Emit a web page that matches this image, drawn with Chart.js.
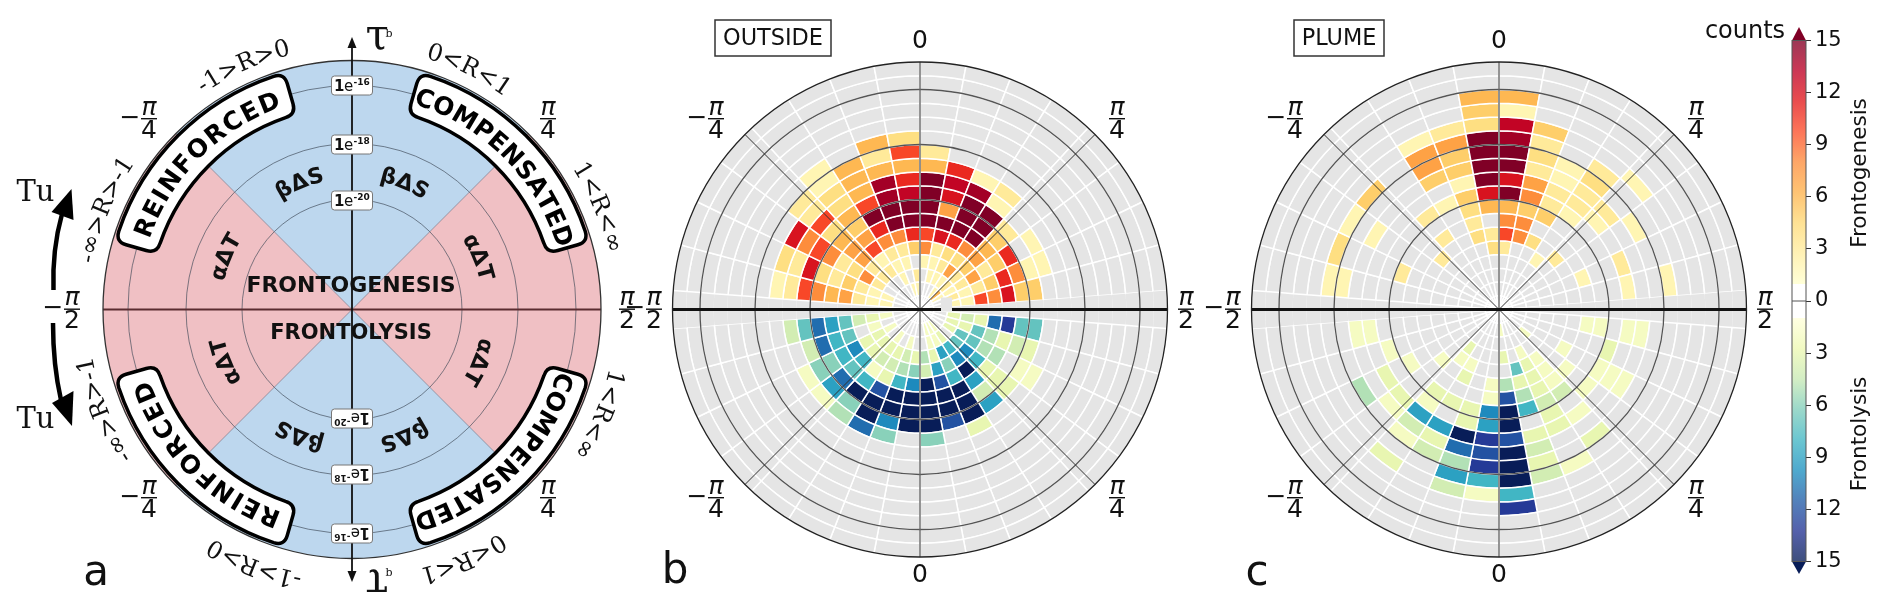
<!DOCTYPE html>
<html>
<head>
<meta charset="utf-8">
<title>Frontogenesis and frontolysis polar histograms</title>
<script src="https://cdn.jsdelivr.net/npm/chart.js@4"></script>
<style>
  html, body { margin: 0; padding: 0; background: #fff; width: 1892px; height: 610px; overflow: hidden; }
  canvas { position: absolute; top: 0; }
</style>
</head>
<body>
<canvas id="panelA" width="704" height="610" style="left:0"></canvas>
<canvas id="panelB" width="640" height="610" style="left:600px"></canvas>
<canvas id="panelC" width="640" height="610" style="left:1179px"></canvas>
<canvas id="colorbar" width="202" height="610" style="left:1690px"></canvas>
<script>
// counts per sector (left to right seen from the top/bottom axis), each row runs from the centre ring outwards
const outsideTop = [
  [0,0,2,2,3,7,6,8,10,3,2],
  [0,0,2,2,3,5,3,4,12,3,4],
  [0,0,0,3,8,4,3,8,10,8,12],
  [0,0,0,3,3,7,7,6,4,10,3,3],
  [0,0,0,3,2,10,7,5,6,4,4,2,2],
  [0,0,2,2,3,8,11,15,10,6,6,6],
  [0,2,0,2,3,8,15,15,14,14,6,3,6],
  [0,2,3,0,5,11,15,15,13,11,6,10,4],
  [0,0,0,2,8,10,15,15,15,15,6,3],
  [0,0,2,2,3,12,15,7,12,13,11],
  [0,0,2,3,4,11,15,15,15,14,2],
  [0,2,2,7,4,8,15,15,15,2,3],
  [0,6,3,3,5,7,6,5,3],
  [0,2,2,3,7,3,5,11,0,2],
  [0,0,3,2,3,5,11,8,2,2],
  [0,0,2,2,10,8,12,5,5]
];
const outsideBottom = [
  [0,0,2,3,4,7,9,11,7,4],
  [0,0,0,2,0,7,8,11,4],
  [0,0,2,3,3,10,8,6,6,2],
  [0,0,0,3,3,8,7,11,9,2],
  [0,0,2,3,4,2,8,15,6,5],
  [0,0,0,3,4,3,12,15,15,11],
  [0,0,2,4,5,8,15,15,10,6],
  [0,0,0,3,6,10,15,15,15],
  [0,0,0,5,4,15,15,15,15,6],
  [0,2,2,3,9,12,15,15,12],
  [0,2,2,9,6,8,15,15,15,3],
  [0,2,3,8,10,15,9,4,9],
  [0,0,0,7,10,8,3,3,3],
  [0,0,3,7,7,5,5,0,2,2],
  [0,0,3,3,7,5,3,4,3],
  [0,0,3,4,3,11,13,7,7]
];
const plumeTop = [
  [0,0,0,0,0,0,0,0,0,0,0,2,2],
  [0,0,0,0,0,0,0,3,0,0,0,0,4],
  [0,0,0,0,0,0,0,0,0,0,2,0,2],
  [0,0,0,0,0,3,0,0,0,0,0,0,5],
  [0,0,0,0,0,0,3,0,3],
  [0,0,0,0,0,0,0,0,2,0,5,7,7,2],
  [0,0,0,0,0,4,3,4,5,2,5,5,7,3],
  [0,0,0,0,4,3,0,6,12,15,15,15,15,4,5,6],
  [0,0,0,0,3,10,8,6,15,12,15,15,14,13,2,6],
  [0,0,0,0,0,8,8,5,8,7,3,4,3,5],
  [0,0,0,0,0,4,0,5,3,3,2,2],
  [0,0,0,0,2,0,0,0,2,3,3,4,3],
  [0,0,0,0,0,3,0,0,0,2,3,0,0,2],
  [0,0,0,0,0,0,0,0,0,0,0,2],
  [0,0,0,0,0,0,2,0,0,3],
  [0,0,0,0,0,0,0,0,0,2,0,0,2]
];
const plumeBottom = [
  [0,0,0,0,0,0,0,0,0,2,2],
  [0,0,0,0,0,0,0,0,2],
  [0,0,0,0,0,0,0,2,0,3,0,5],
  [0,0,0,0,0,2,0,0,0,3,2],
  [0,0,0,3,2,0,0,3,2,9,4,2,0,3],
  [0,0,0,0,2,3,0,3,0,9,3,4],
  [0,0,0,0,0,0,0,3,3,15,11,5,9,4],
  [0,0,0,0,0,2,2,10,9,13,12,13,8,2],
  [0,2,0,3,0,5,12,15,15,12,15,15,15,8,13],
  [0,0,0,0,7,3,5,8,0,3,4,3,4],
  [0,0,0,2,3,3,3,4,3,3,0,0,2],
  [0,0,0,0,2,2,2,4,0,2,0,3],
  [0,0,2,0,0,0,2,0,2],
  [0,0,0,0,0,2,0,0,2,2,2],
  [0,0,0,0,0,0,0,0,3],
  [0,0,0,0,0,0,2,2,0,2,2]
];

const ringCount = 18;
const sectorWidth = 10.7;
const edgeGap = 4.4;
const colorbarTicks = [-15, -12, -9, -6, -3, 0, 3, 6, 9, 12, 15];
const warmStops = ['#ffffcc', '#ffeda0', '#fed976', '#feb24c', '#fd8d3c', '#fc4e2a', '#e31a1c', '#bd0026', '#800026'];
const coolStops = ['#ffffd9', '#edf8b1', '#c7e9b4', '#7fcdbb', '#41b6c4', '#1d91c0', '#225ea8', '#253494', '#081d58'];
const wedgeAngles = [90, 90, 90, 90];
const wedgeColors = ['#bdd7ee', '#f0c0c4', '#bdd7ee', '#f0c0c4'];

const gridGrey = '#e5e5e5';
const sans = '"DejaVu Sans"';
const serif = '"DejaVu Serif"';

function hexRgb(h) {
  return [parseInt(h.slice(1, 3), 16), parseInt(h.slice(3, 5), 16), parseInt(h.slice(5, 7), 16)];
}

function stopColor(stops, v, alpha) {
  const p = Math.min(Math.max((v - 1) / 14, 0), 1) * (stops.length - 1);
  const i = Math.min(Math.floor(p), stops.length - 2);
  const a = hexRgb(stops[i]), b = hexRgb(stops[i + 1]);
  const c = a.map((x, n) => Math.round(x + (b[n] - x) * (p - i)));
  return alpha === undefined ? `rgb(${c.join(',')})` : `rgba(${c.join(',')},${alpha})`;
}

// clockwise from the left end of the horizontal axis: gap, top sectors, gap, bottom sectors, gap
function sectorAngles() {
  return [edgeGap, ...outsideTop.map(() => sectorWidth), edgeGap * 2, ...outsideBottom.map(() => sectorWidth), edgeGap];
}

function ringColors(top, bottom, k) {
  const cell = (m, s, stops) => {
    const v = m[s][k] || 0;
    return v > 0 ? stopColor(stops, v) : gridGrey;
  };
  const upper = top.map((_, s) => cell(top, s, warmStops));
  const lower = bottom.map((_, s) => cell(bottom, s, coolStops)).reverse();
  // bottom matrix is stored left to right, the doughnut walks it right to left
  return [gridGrey, ...upper, gridGrey, ...lower, gridGrey];
}

function ringDatasets(top, bottom) {
  const out = [];
  for (let k = ringCount - 1; k >= 0; k--) {
    const borders = [0, ...top.map(() => 1.5), 0, ...bottom.map(() => 1.5), 0];
    out.push({ data: sectorAngles(), backgroundColor: ringColors(top, bottom, k), borderColor: '#fff', borderWidth: borders });
  }
  return out;
}

// drawing helpers
function text(ctx, str, x, y, font, color, rot) {
  ctx.save();
  ctx.translate(x, y);
  if (rot) ctx.rotate(rot * Math.PI / 180);
  ctx.font = font;
  ctx.fillStyle = color || '#111';
  ctx.textAlign = 'center';
  ctx.textBaseline = 'middle';
  ctx.fillText(str, 0, 0);
  ctx.restore();
}

function arcText(ctx, str, cx, cy, r, midDeg, font, color, extra) {
  ctx.save();
  ctx.font = font;
  ctx.fillStyle = color || '#111';
  ctx.textAlign = 'center';
  ctx.textBaseline = 'alphabetic';
  const gaps = extra || 0;
  const chars = Array.from(str);
  const widths = chars.map(c => ctx.measureText(c).width + gaps);
  const total = widths.reduce((a, b) => a + b, 0);
  let pos = -total / 2;
  chars.forEach((c, i) => {
    const a = (midDeg + (pos + widths[i] / 2) / r * 180 / Math.PI) * Math.PI / 180;
    ctx.save();
    ctx.translate(cx + r * Math.sin(a), cy - r * Math.cos(a));
    ctx.rotate(a);
    ctx.fillText(c, 0, 0);
    ctx.restore();
    pos += widths[i];
  });
  ctx.restore();
}

function fraction(ctx, x, y, denom, negative) {
  text(ctx, 'π', x, y - 11, 'italic 25px ' + sans);
  text(ctx, denom, x, y + 12, '25px ' + sans);
  ctx.fillStyle = '#111';
  ctx.fillRect(x - 8, y - 1, 16, 1.4);
  if (negative) text(ctx, '−', x - 19, y - 1, '25px ' + sans);
}

function ring(ctx, cx, cy, r, color, lw) {
  ctx.beginPath();
  ctx.arc(cx, cy, r, 0, Math.PI * 2);
  ctx.strokeStyle = color;
  ctx.lineWidth = lw;
  ctx.stroke();
}

function line(ctx, x0, y0, x1, y1, color, lw) {
  ctx.beginPath();
  ctx.moveTo(x0, y0);
  ctx.lineTo(x1, y1);
  ctx.strokeStyle = color;
  ctx.lineWidth = lw;
  ctx.stroke();
}

function ringEdge(chart, fromCentre) {
  const meta = chart.getDatasetMeta(ringCount - 1 - (fromCentre - 1));
  return meta.data[0].outerRadius;
}

// grid lines and labels shared by the two histogram panels
const histogramOverlay = {
  id: 'histogramOverlay',
  afterDatasetsDraw(chart, args, opts) {
    const ctx = chart.ctx;
    const el = chart.getDatasetMeta(0).data[0];
    const cx = el.x, cy = el.y, R = el.outerRadius;
    ctx.save();
    [8, 12, 16].forEach(k => ring(ctx, cx, cy, ringEdge(chart, k), '#555', 1.3));
    line(ctx, cx, cy - R, cx, cy + R, '#666', 1.4);
    const d = R * Math.SQRT1_2;
    line(ctx, cx - d, cy - d, cx + d, cy + d, '#333', 1);
    line(ctx, cx - d, cy + d, cx + d, cy - d, '#333', 1);
    line(ctx, cx - R, cy, cx + R, cy, '#111', 3);
    ring(ctx, cx, cy, R, '#222', 1.3);
    if (opts.patch) {
      ctx.fillStyle = gridGrey;
      ctx.fillRect(cx + opts.patch[0], cy + opts.patch[1], opts.patch[2], opts.patch[3]);
    }
    text(ctx, '0', cx, 41, '25px ' + sans);
    text(ctx, '0', cx, 575, '25px ' + sans);
    fraction(ctx, cx - 204, 119, '4', true);
    fraction(ctx, cx + 197, 119, '4', false);
    fraction(ctx, cx - 204, 498, '4', true);
    fraction(ctx, cx + 197, 498, '4', false);
    fraction(ctx, cx - 266, cy, '2', true);
    fraction(ctx, cx + 266, cy, '2', false);
    ctx.lineWidth = 1.5;
    ctx.strokeStyle = '#333';
    ctx.strokeRect(opts.box[0], opts.box[1], opts.box[2], opts.box[3]);
    text(ctx, opts.title, opts.box[0] + opts.box[2] / 2, opts.box[1] + opts.box[3] / 2 + 1, '22.4px ' + sans);
    text(ctx, opts.letter, opts.letterPos[0], opts.letterPos[1], '42px ' + sans);
    ctx.restore();
  }
};

function pill(ctx, cx, cy, r0, r1, a0, a1) {
  const P = (r, deg) => [cx + r * Math.sin(deg * Math.PI / 180), cy - r * Math.cos(deg * Math.PI / 180)];
  const corner = 11;
  const da0 = corner / r1 * 180 / Math.PI, db0 = corner / r0 * 180 / Math.PI;
  const rad = d => (d - 90) * Math.PI / 180;
  ctx.beginPath();
  ctx.arc(cx, cy, r1, rad(a0 + da0), rad(a1 - da0));
  let c = P(r1, a1), e = P(r1 - corner, a1);
  ctx.quadraticCurveTo(c[0], c[1], e[0], e[1]);
  e = P(r0 + corner, a1);
  ctx.lineTo(e[0], e[1]);
  c = P(r0, a1); e = P(r0, a1 - db0);
  ctx.quadraticCurveTo(c[0], c[1], e[0], e[1]);
  ctx.arc(cx, cy, r0, rad(a1 - db0), rad(a0 + db0), true);
  c = P(r0, a0); e = P(r0 + corner, a0);
  ctx.quadraticCurveTo(c[0], c[1], e[0], e[1]);
  e = P(r1 - corner, a0);
  ctx.lineTo(e[0], e[1]);
  c = P(r1, a0); e = P(r1, a0 + da0);
  ctx.quadraticCurveTo(c[0], c[1], e[0], e[1]);
  ctx.closePath();
  ctx.fillStyle = '#fff';
  ctx.fill();
  ctx.strokeStyle = '#000';
  ctx.lineWidth = 3.5;
  ctx.stroke();
}

function powerTag(ctx, x, y, exponent, flip) {
  ctx.save();
  ctx.translate(x, y);
  if (flip) ctx.rotate(Math.PI);
  ctx.beginPath();
  ctx.roundRect(-20.5, -9.5, 41, 19, 3);
  ctx.fillStyle = '#fff';
  ctx.fill();
  ctx.strokeStyle = '#777';
  ctx.lineWidth = 1;
  ctx.stroke();
  ctx.fillStyle = '#111';
  ctx.textBaseline = 'alphabetic';
  ctx.textAlign = 'left';
  ctx.font = 'bold 15px ' + sans;
  ctx.fillText('1', -18, 5.5);
  ctx.font = '15px ' + sans;
  ctx.fillText('e', -8, 5.5);
  ctx.font = 'bold 9px ' + sans;
  ctx.fillText(exponent, 1.5, -0.5);
  ctx.restore();
}

function curvedArrow(ctx, sx, sy, qx, qy, ex, ey, head) {
  ctx.beginPath();
  ctx.moveTo(sx, sy);
  ctx.quadraticCurveTo(qx, qy, ex, ey);
  ctx.strokeStyle = '#000';
  ctx.lineWidth = 4.5;
  ctx.stroke();
  ctx.beginPath();
  ctx.moveTo(head[0], head[1]);
  ctx.lineTo(head[2], head[3]);
  ctx.lineTo(head[4], head[5]);
  ctx.closePath();
  ctx.fillStyle = '#000';
  ctx.fill();
}

const schematicOverlay = {
  id: 'schematicOverlay',
  afterDatasetsDraw(chart) {
    const ctx = chart.ctx;
    const el = chart.getDatasetMeta(0).data[0];
    const cx = el.x, cy = el.y, R = el.outerRadius;
    ctx.save();
    [110, 166, 224].forEach(r => ring(ctx, cx, cy, r, 'rgba(60,70,85,0.65)', 1));
    const d = R * Math.SQRT1_2;
    line(ctx, cx - d, cy - d, cx + d, cy + d, 'rgba(90,90,110,0.55)', 1);
    line(ctx, cx - d, cy + d, cx + d, cy - d, 'rgba(90,90,110,0.55)', 1);
    line(ctx, cx - R, cy, cx + R, cy, '#5a2c30', 2.2);
    ring(ctx, cx, cy, R, '#333', 1.3);

    line(ctx, cx, 42, cx, 577, '#111', 1.8);
    ctx.fillStyle = '#111';
    ctx.beginPath(); ctx.moveTo(cx, 37); ctx.lineTo(cx - 4.5, 48); ctx.lineTo(cx + 4.5, 48); ctx.fill();
    ctx.beginPath(); ctx.moveTo(cx, 582); ctx.lineTo(cx - 4.5, 571); ctx.lineTo(cx + 4.5, 571); ctx.fill();

    pill(ctx, cx, cy, 203, 246, 16, 74);
    pill(ctx, cx, cy, 203, 246, -74, -16);
    pill(ctx, cx, cy, 203, 246, 106, 164);
    pill(ctx, cx, cy, 203, 246, 196, 254);
    const bold = 'bold 25px ' + sans;
    arcText(ctx, 'COMPENSATED', cx, cy, 214.5, 45, bold, '#000');
    arcText(ctx, 'REINFORCED', cx, cy, 214.5, -45, bold, '#000', 1.5);
    arcText(ctx, 'COMPENSATED', cx, cy, 214.5, 135, bold, '#000');
    arcText(ctx, 'REINFORCED', cx, cy, 214.5, 225, bold, '#000', 1.5);

    const labelFont = 'bold 22px ' + sans;
    arcText(ctx, 'βΔS', cx, cy, 131, 22.5, labelFont, '#111');
    arcText(ctx, 'βΔS', cx, cy, 131, -22.5, labelFont, '#111');
    arcText(ctx, 'αΔT', cx, cy, 131, 67.5, labelFont, '#111');
    arcText(ctx, 'αΔT', cx, cy, 131, -67.5, labelFont, '#111');
    arcText(ctx, 'αΔT', cx, cy, 131, 112.5, labelFont, '#111');
    arcText(ctx, 'αΔT', cx, cy, 131, 247.5, labelFont, '#111');
    arcText(ctx, 'βΔS', cx, cy, 131, 157.5, labelFont, '#111');
    arcText(ctx, 'βΔS', cx, cy, 131, 202.5, labelFont, '#111');

    text(ctx, 'FRONTOGENESIS', 351, 286, 'bold 22px ' + sans);
    text(ctx, 'FRONTOLYSIS', 351, 334, 'bold 21px ' + sans);

    const rangeFont = '24px ' + serif;
    arcText(ctx, '0<R<1', cx, cy, 262, 26, rangeFont, '#111');
    arcText(ctx, '-1>R>0', cx, cy, 262, -24, rangeFont, '#111');
    arcText(ctx, '1<R<∞', cx, cy, 262, 67.5, rangeFont, '#111');
    arcText(ctx, '-∞>R>-1', cx, cy, 262, -68, rangeFont, '#111');
    arcText(ctx, '1<R<∞', cx, cy, 264, 113, rangeFont, '#111');
    arcText(ctx, '0<R<1', cx, cy, 268, 156, rangeFont, '#111');
    arcText(ctx, '-1>R>0', cx, cy, 268, 201, rangeFont, '#111');
    arcText(ctx, '-∞>R>-1', cx, cy, 264, 248, rangeFont, '#111');

    powerTag(ctx, cx, cy - 224, '-16', false);
    powerTag(ctx, cx, cy - 165, '-18', false);
    powerTag(ctx, cx, cy - 109, '-20', false);
    powerTag(ctx, cx, cy + 109, '-20', true);
    powerTag(ctx, cx, cy + 165, '-18', true);
    powerTag(ctx, cx, cy + 224, '-16', true);

    text(ctx, 'τ', 377, 38, '42px ' + serif);
    text(ctx, 'b', 389, 34, '11px ' + serif);
    text(ctx, 'τ', 377, 581, '42px ' + serif, '#111', 180);
    text(ctx, 'b', 389, 573, '11px ' + serif);

    text(ctx, 'Tu', 35.5, 193, '29px ' + serif);
    text(ctx, 'Tu', 35.5, 420, '29px ' + serif);
    curvedArrow(ctx, 53.5, 290, 52, 250, 62, 214, [71.5, 189, 51.5, 212, 73.5, 220]);
    curvedArrow(ctx, 53, 323, 53, 365, 61, 400, [72, 426, 52, 403, 73.5, 391]);

    fraction(ctx, 149, 119, '4', true);
    fraction(ctx, 548, 119, '4', false);
    fraction(ctx, 149, 498, '4', true);
    fraction(ctx, 548, 498, '4', false);
    fraction(ctx, 72, cy, '2', true);
    fraction(ctx, 627, cy, '2', false);
    text(ctx, 'a', 96, 574, '42px ' + sans);
    ctx.restore();
  }
};

const baseOptions = {
  responsive: false,
  animation: false,
  cutout: 0,
  rotation: -90,
  radius: 247.5,
  layout: { padding: { top: 9 } },
  plugins: { legend: { display: false }, tooltip: { enabled: false } }
};

new Chart(document.getElementById('panelA'), {
  type: 'doughnut',
  data: { datasets: [{ data: wedgeAngles, backgroundColor: wedgeColors, borderWidth: 0 }] },
  options: { ...baseOptions, rotation: -45, radius: 249 },
  plugins: [schematicOverlay]
});

new Chart(document.getElementById('panelB'), {
  type: 'doughnut',
  data: { datasets: ringDatasets(outsideTop, outsideBottom) },
  options: { ...baseOptions, plugins: { ...baseOptions.plugins,
    histogramOverlay: { title: 'OUTSIDE', box: [115, 20, 116, 36], letter: 'b', letterPos: [75, 572], patch: [21, -12, 11, 14] } } },
  plugins: [histogramOverlay]
});

new Chart(document.getElementById('panelC'), {
  type: 'doughnut',
  data: { datasets: ringDatasets(plumeTop, plumeBottom) },
  options: { ...baseOptions, plugins: { ...baseOptions.plugins,
    histogramOverlay: { title: 'PLUME', box: [115, 20, 90, 36], letter: 'c', letterPos: [78, 574] } } },
  plugins: [histogramOverlay]
});

// colour bar: one floating bar on a linear axis, filled from the two colour ramps
const colorbarOverlay = {
  id: 'colorbarOverlay',
  afterDatasetsDraw(chart) {
    const ctx = chart.ctx, a = chart.chartArea, y = chart.scales.y;
    ctx.save();
    const mid = (a.left + a.right) / 2;
    ctx.fillStyle = '#800026';
    ctx.beginPath(); ctx.moveTo(a.left, a.top); ctx.lineTo(mid, 27); ctx.lineTo(a.right, a.top); ctx.fill();
    ctx.fillStyle = '#081d58';
    ctx.beginPath(); ctx.moveTo(a.left, a.bottom); ctx.lineTo(mid, 574); ctx.lineTo(a.right, a.bottom); ctx.fill();
    ctx.strokeStyle = '#555';
    ctx.lineWidth = 1;
    ctx.strokeRect(a.left, a.top, a.right - a.left, a.bottom - a.top);
    line(ctx, a.left, y.getPixelForValue(0), a.right, y.getPixelForValue(0), '#555', 1);
    text(ctx, 'counts', 55, 32, '24px ' + sans);
    text(ctx, 'Frontogenesis', 170, 173, '21.5px ' + sans, '#111', -90);
    text(ctx, 'Frontolysis', 170, 434, '21.5px ' + sans, '#111', -90);
    ctx.restore();
  }
};

function colorbarFill(context) {
  const chart = context.chart, area = chart.chartArea;
  if (!area || !isFinite(area.top) || !isFinite(area.bottom)) return '#fff';
  const g = chart.ctx.createLinearGradient(0, area.top, 0, area.bottom);
  const at = v => (15 - v) / 30;
  warmStops.forEach((c, i) => {
    const v = 15 - i * 14 / 8;
    g.addColorStop(at(v), stopColor(warmStops, v, 0.78));
  });
  g.addColorStop(at(0.95), 'rgba(255,255,255,1)');
  g.addColorStop(at(-0.95), 'rgba(255,255,255,1)');
  coolStops.forEach((c, i) => {
    const v = 1 + i * 14 / 8;
    g.addColorStop(at(-v), stopColor(coolStops, v, 0.78));
  });
  return g;
}

new Chart(document.getElementById('colorbar'), {
  type: 'bar',
  data: { labels: ['counts'], datasets: [{ data: [[-15, 15]], backgroundColor: colorbarFill, barPercentage: 1, categoryPercentage: 1 }] },
  options: {
    responsive: false,
    animation: false,
    layout: { padding: { top: 40.5, bottom: 48.5, left: 102 } },
    plugins: { legend: { display: false }, tooltip: { enabled: false } },
    scales: {
      x: { display: false },
      y: {
        position: 'right',
        min: -15,
        max: 15,
        afterBuildTicks: s => { s.ticks = colorbarTicks.map(v => ({ value: v })); },
        afterFit: s => { s.width = 86; },
        grid: { drawOnChartArea: false, tickLength: 5, color: '#333' },
        border: { display: false },
        ticks: { callback: v => Math.abs(v), color: '#111', font: { family: 'DejaVu Sans', size: 21 }, padding: 4 }
      }
    }
  },
  plugins: [colorbarOverlay]
});
</script>
</body>
</html>
